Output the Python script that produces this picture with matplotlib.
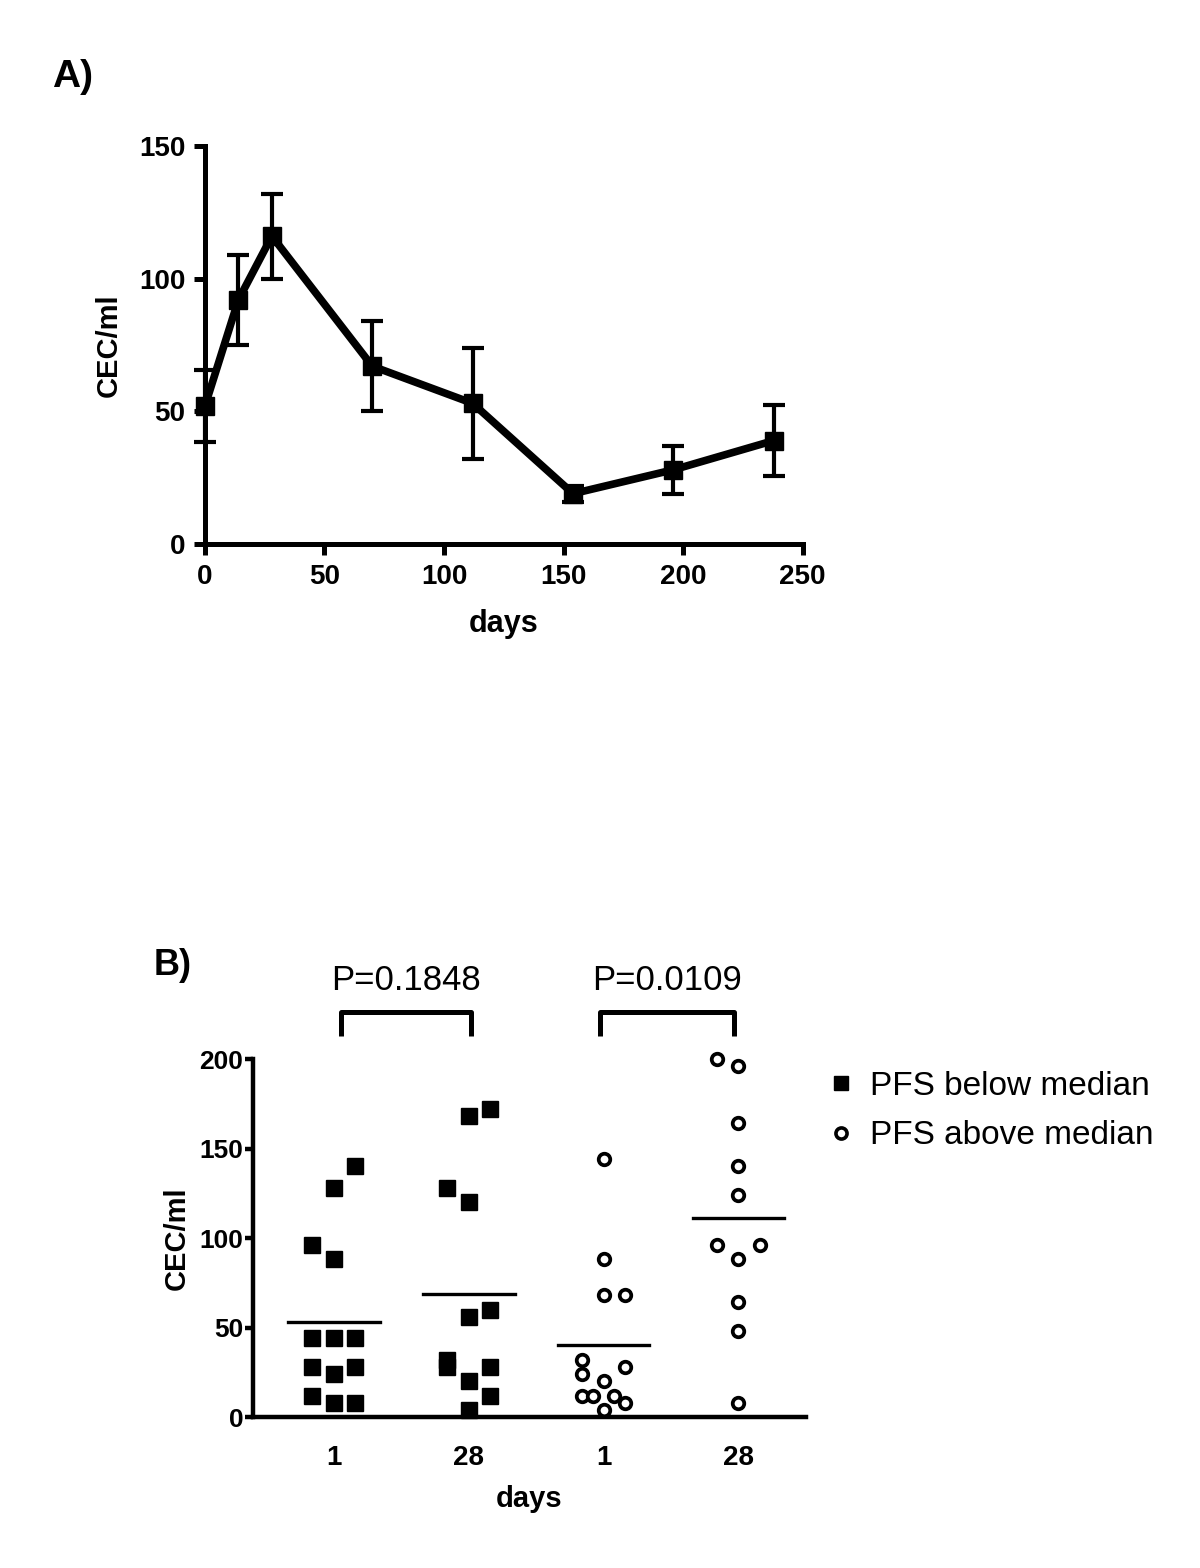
import matplotlib.pyplot as plt
import numpy as np
from matplotlib.lines import Line2D

plt.rcParams['font.family'] = ['Liberation Sans', 'DejaVu Sans']

# Panel A: CEC over time (mean +/- error)
days_a = [0, 14, 28, 70, 112, 154, 196, 238]
cec_mean = [52, 92, 116, 67, 53, 19, 28, 39]
cec_err = [13.5, 17, 16, 17, 21, 3, 9, 13.5]

# Panel B: CEC at day 1 and 28 split by PFS
day_labels = ['1', '28', '1', '28']
below_d1 = [140, 128, 96, 88, 44, 44, 44, 28, 24, 28, 12, 8, 8]
below_d28 = [172, 168, 128, 120, 60, 56, 32, 28, 28, 20, 12, 4]
above_d1 = [144, 88, 68, 68, 32, 28, 24, 20, 12, 12, 12, 8, 4]
above_d28 = [200, 196, 164, 140, 124, 96, 96, 88, 64, 48, 8]
p_values = [0.1848, 0.0109]

# horizontal scatter columns (layout only, in marker widths)
jit_below_d1 = [1, 0, -1, 0, -1, 0, 1, -1, 0, 1, -1, 0, 1]
jit_below_d28 = [1, 0, -1, 0, 1, 0, -1, -1, 1, 0, 1, 0]
jit_above_d1 = [0, 0, 0, 1, -1, 1, -1, 0, -1, -0.5, 0.5, 1, 0]
jit_above_d28 = [-1, 0, 0, 0, 0, -1, 1, 0, 0, 0, 0]

fig = plt.figure(figsize=(12, 15.68), dpi=100)

# ---------- Panel A ----------
axA = fig.add_axes([0.1708, 0.653, 0.498, 0.254])
axA.errorbar(days_a, cec_mean, yerr=cec_err, fmt='none', ecolor='black',
             elinewidth=3, capsize=8, capthick=3, zorder=2, clip_on=False)
axA.plot(days_a, cec_mean, color='black', lw=5.5, marker='s', ms=13,
         zorder=3, clip_on=False)
axA.set_xlim(0, 250)
axA.set_ylim(0, 150)
axA.set_xticks([0, 50, 100, 150, 200, 250])
axA.set_yticks([0, 50, 100, 150])
axA.spines['top'].set_visible(False)
axA.spines['right'].set_visible(False)
for s in ['left', 'bottom']:
    axA.spines[s].set_linewidth(3.6)
axA.tick_params(direction='out', length=8, width=3.6, labelsize=20, pad=6)
for lab in axA.get_xticklabels() + axA.get_yticklabels():
    lab.set_fontweight('bold')
axA.set_xlabel('days', fontsize=22, fontweight='bold', labelpad=14)
axA.set_ylabel('CEC/ml', fontsize=21, fontweight='bold', labelpad=12)
fig.text(0.043, 0.951, 'A)', fontsize=28, fontweight='bold', va='center')

# ---------- Panel B ----------
axB = fig.add_axes([0.2108, 0.0963, 0.4608, 0.2283])
step = 0.16
groups = [below_d1, below_d28, above_d1, above_d28]
jits = [jit_below_d1, jit_below_d28, jit_above_d1, jit_above_d28]
for i, (vals, jit) in enumerate(zip(groups, jits)):
    pos = i + 1
    xs = pos + np.array(jit) * step
    if i < 2:
        axB.plot(xs, vals, ls='none', marker='s', ms=11, color='black',
                 clip_on=False, zorder=3)
    else:
        axB.plot(xs, vals, ls='none', marker='o', ms=8.3, mfc='white',
                 mec='black', mew=2.7, clip_on=False, zorder=3)
    axB.plot([pos - 0.34, pos + 0.34], [np.mean(vals)] * 2, color='black',
             lw=2.4, zorder=2)

axB.set_xlim(0.4, 4.5)
axB.set_ylim(0, 200)
axB.set_yticks([0, 50, 100, 150, 200])
axB.set_xticks([1, 2, 3, 4])
axB.set_xticklabels(day_labels)
axB.spines['top'].set_visible(False)
axB.spines['right'].set_visible(False)
for s in ['left', 'bottom']:
    axB.spines[s].set_linewidth(3.2)
axB.tick_params(axis='y', direction='out', length=6, width=3.2, labelsize=19, pad=1)
axB.tick_params(axis='x', length=0, labelsize=20, pad=20)
for lab in axB.get_xticklabels() + axB.get_yticklabels():
    lab.set_fontweight('bold')
axB.set_xlabel('days', fontsize=21, fontweight='bold', labelpad=10)
axB.set_ylabel('CEC/ml', fontsize=21, fontweight='bold', labelpad=6)

# significance brackets
brackets = [(1.05, 2.02), (2.97, 3.97)]
for (x0, x1), p in zip(brackets, p_values):
    axB.plot([x0, x0, x1, x1], [213, 226, 226, 213], color='black', lw=3.6,
             clip_on=False, solid_capstyle='butt')
    axB.text((x0 + x1) / 2, 244, f'P={p}', fontsize=25, ha='center',
             va='center', clip_on=False)

fig.text(0.128, 0.384, 'B)', fontsize=26, fontweight='bold', va='center')

handles = [
    Line2D([], [], ls='none', marker='s', ms=10, color='black'),
    Line2D([], [], ls='none', marker='o', ms=8, mfc='white', mec='black', mew=2.6),
]
fig.legend(handles, ['PFS below median', 'PFS above median'],
           loc='upper left', bbox_to_anchor=(0.665, 0.336), frameon=False,
           fontsize=24, handlelength=0.8, handletextpad=0.45, labelspacing=0.55)

fig.savefig('out.png', dpi=100)
